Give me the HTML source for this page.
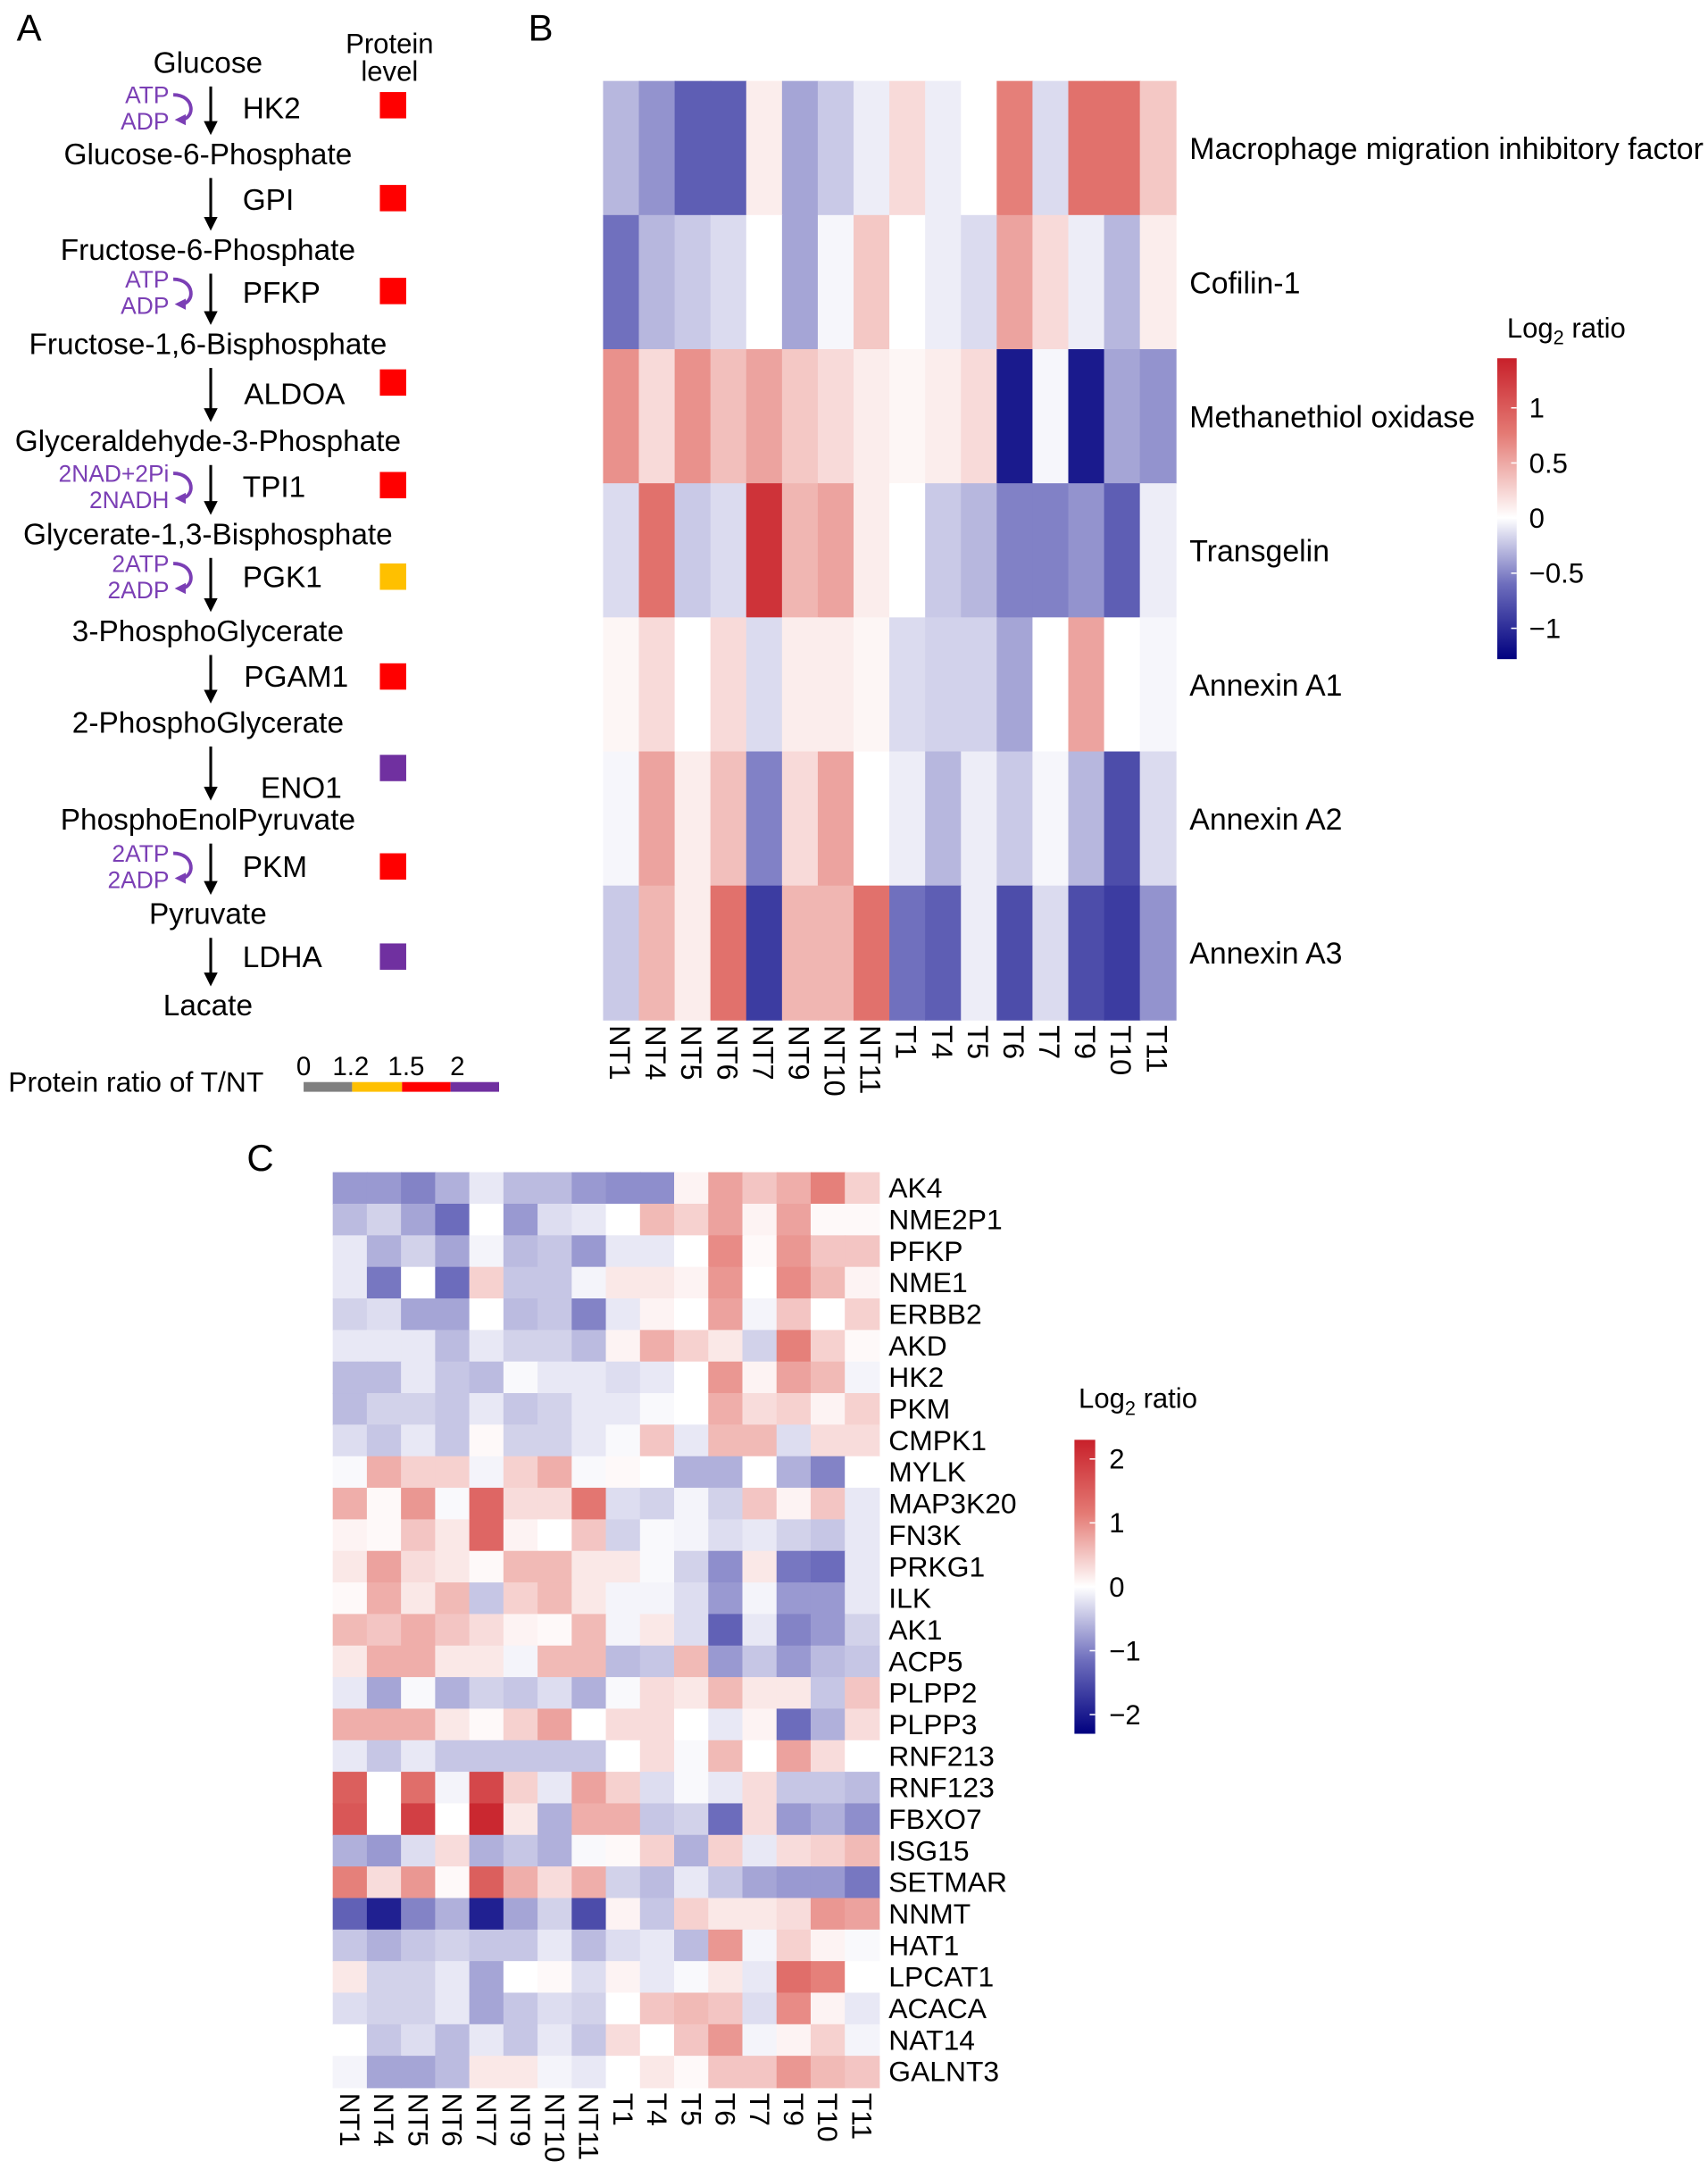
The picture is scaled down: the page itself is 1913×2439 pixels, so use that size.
<!DOCTYPE html>
<html><head><meta charset="utf-8">
<style>
html,body{margin:0;padding:0;background:#fff;}
svg{display:block;font-family:"Liberation Sans",Arial,sans-serif;}
</style></head>
<body>
<svg id="fig" width="1913" height="2439" viewBox="0 0 1232 1570" xmlns="http://www.w3.org/2000/svg">
<defs>
<marker id="ah" markerUnits="userSpaceOnUse" markerWidth="10" markerHeight="10" refX="5" refY="5" orient="auto"><path d="M0,0 L10,5 L0,10 z" fill="#000"/></marker>
<marker id="ahp" markerUnits="userSpaceOnUse" markerWidth="8" markerHeight="8" refX="4" refY="4" orient="auto"><path d="M0,0 L8,4 L0,8 z" fill="#7b3fb5"/></marker>
<linearGradient id="gradB" x1="0" y1="1" x2="0" y2="0">
<stop offset="0" stop-color="#00007f"/><stop offset="0.25" stop-color="#6e6ebd"/><stop offset="0.47" stop-color="#ffffff"/><stop offset="0.75" stop-color="#e47a74"/><stop offset="1" stop-color="#c8202a"/>
</linearGradient>
<linearGradient id="gradC" x1="0" y1="1" x2="0" y2="0">
<stop offset="0" stop-color="#00007f"/><stop offset="0.25" stop-color="#6e6ebd"/><stop offset="0.5" stop-color="#ffffff"/><stop offset="0.75" stop-color="#e47a74"/><stop offset="1" stop-color="#c8202a"/>
</linearGradient>
</defs>
<g id="panelA"></g>
<g id="panelB"></g>
<g id="panelC"></g>
</svg>
<script>
const cols = ["NT1","NT4","NT5","NT6","NT7","NT9","NT10","NT11","T1","T4","T5","T6","T7","T9","T10","T11"];
const rowsB = ["Macrophage migration inhibitory factor","Cofilin-1","Methanethiol oxidase","Transgelin","Annexin A1","Annexin A2","Annexin A3"];
const valsB = [
[-0.4,-0.6,-0.9,-0.9,0.1,-0.5,-0.3,-0.1,0.2,-0.1,0,0.7,-0.2,0.8,0.8,0.3],
[-0.8,-0.4,-0.3,-0.2,0,-0.5,-0.05,0.3,0,-0.1,-0.2,0.5,0.2,-0.1,-0.4,0.1],
[0.6,0.2,0.6,0.35,0.5,0.3,0.2,0.1,0.05,0.1,0.2,-1.3,-0.05,-1.3,-0.5,-0.6],
[-0.2,0.8,-0.3,-0.2,1.3,0.4,0.5,0.1,0,-0.3,-0.4,-0.7,-0.7,-0.6,-0.9,-0.1],
[0.05,0.2,0,0.2,-0.2,0.1,0.1,0.05,-0.2,-0.25,-0.25,-0.5,0,0.5,0,-0.05],
[-0.05,0.5,0.1,0.35,-0.7,0.2,0.5,0,-0.1,-0.4,-0.1,-0.3,-0.05,-0.4,-1,-0.2],
[-0.3,0.4,0.1,0.8,-1.1,0.4,0.4,0.8,-0.8,-0.9,-0.1,-1,-0.2,-1,-1.1,-0.6]];
const ticksB = [1,0.5,0,-0.5,-1];
const ticksBLabels = ["1","0.5","0","\u22120.5","\u22121"];
const rowsC = ["AK4","NME2P1","PFKP","NME1","ERBB2","AKD","HK2","PKM","CMPK1","MYLK","MAP3K20","FN3K","PRKG1","ILK","AK1","ACP5","PLPP2","PLPP3","RNF213","RNF123","FBXO7","ISG15","SETMAR","NNMT","HAT1","LPCAT1","ACACA","NAT14","GALNT3"];
const valsC = [
[-0.9,-0.9,-1.1,-0.7,-0.2,-0.6,-0.6,-0.9,-1.0,-1.0,0.1,0.8,0.5,0.7,1.1,0.4],
[-0.6,-0.4,-0.8,-1.3,0,-0.9,-0.3,-0.2,0,0.6,0.4,0.8,0.1,0.8,0.05,0.05],
[-0.2,-0.7,-0.4,-0.8,-0.1,-0.6,-0.5,-0.9,-0.2,-0.2,0,1.0,0.05,0.9,0.5,0.5],
[-0.2,-1.2,0,-1.3,0.4,-0.5,-0.5,-0.1,0.2,0.2,0.1,0.9,0,1.0,0.6,0.1],
[-0.4,-0.3,-0.8,-0.8,0,-0.6,-0.5,-1.1,-0.2,0.1,0,0.8,-0.1,0.5,0,0.4],
[-0.2,-0.2,-0.2,-0.6,-0.2,-0.4,-0.4,-0.6,0.1,0.7,0.4,0.2,-0.4,1.1,0.4,0.05],
[-0.6,-0.6,-0.2,-0.5,-0.6,-0.05,-0.2,-0.2,-0.3,-0.2,0,0.9,0.1,0.8,0.6,-0.1],
[-0.6,-0.4,-0.4,-0.5,-0.2,-0.5,-0.4,-0.2,-0.2,-0.05,0,0.7,0.3,0.4,0.1,0.4],
[-0.3,-0.5,-0.2,-0.5,0.05,-0.4,-0.4,-0.2,-0.05,0.5,-0.2,0.6,0.6,-0.3,0.3,0.3],
[-0.05,0.7,0.4,0.4,-0.1,0.4,0.7,-0.05,0.05,0,-0.7,-0.7,0,-0.7,-1.1,0],
[0.7,0.05,0.9,-0.05,1.4,0.3,0.3,1.2,-0.3,-0.4,-0.1,-0.4,0.5,0.1,0.5,-0.2],
[0.1,0.05,0.5,0.2,1.4,0.1,0,0.5,-0.4,-0.05,-0.1,-0.3,-0.2,-0.4,-0.5,-0.2],
[0.2,0.8,0.3,0.2,0.05,0.6,0.6,0.2,0.2,-0.05,-0.4,-1.0,0.2,-1.2,-1.3,-0.2],
[0.05,0.7,0.2,0.6,-0.5,0.4,0.6,0.2,-0.1,-0.1,-0.3,-0.9,-0.1,-0.9,-0.9,-0.2],
[0.6,0.5,0.7,0.5,0.3,0.1,0.05,0.6,-0.1,0.2,-0.3,-1.4,-0.2,-1.1,-0.9,-0.4],
[0.2,0.7,0.7,0.2,0.2,-0.1,0.6,0.6,-0.6,-0.5,0.6,-0.9,-0.5,-0.9,-0.6,-0.5],
[-0.2,-0.8,-0.05,-0.7,-0.4,-0.5,-0.3,-0.7,-0.05,0.3,0.2,0.6,0.2,0.2,-0.5,0.5],
[0.7,0.7,0.7,0.2,0.05,0.4,0.8,0,0.3,0.3,0,-0.2,0.1,-1.3,-0.7,0.3],
[-0.2,-0.5,-0.2,-0.5,-0.5,-0.5,-0.5,-0.5,0,0.3,-0.05,0.6,0,0.8,0.3,0],
[1.5,0,1.3,-0.1,1.8,0.4,-0.2,0.8,0.4,-0.3,-0.05,-0.2,0.3,-0.5,-0.5,-0.6],
[1.6,0,1.9,0,2.2,0.2,-0.7,0.7,0.7,-0.5,-0.4,-1.3,0.3,-0.9,-0.7,-1.0],
[-0.7,-0.9,-0.3,0.3,-0.7,-0.5,-0.7,-0.05,0.05,0.4,-0.7,0.4,-0.2,0.3,0.4,0.6],
[1.1,0.3,0.9,0.05,1.5,0.7,0.3,0.7,-0.4,-0.6,-0.2,-0.5,-0.8,-0.9,-0.9,-1.2],
[-1.4,-2.0,-1.1,-0.7,-2.0,-0.8,-0.4,-1.6,0.1,-0.5,0.4,0.2,0.2,0.3,0.9,0.8],
[-0.5,-0.7,-0.5,-0.4,-0.5,-0.5,-0.2,-0.6,-0.3,-0.2,-0.6,0.9,-0.1,0.4,0.1,-0.05],
[0.2,-0.4,-0.4,-0.2,-0.8,0,0.05,-0.3,0.1,-0.2,-0.05,0.2,-0.2,1.3,1.1,0],
[-0.3,-0.4,-0.4,-0.2,-0.8,-0.5,-0.3,-0.4,0,0.5,0.6,0.5,-0.3,1.0,0.1,-0.2],
[0,-0.5,-0.3,-0.6,-0.2,-0.5,-0.2,-0.5,0.3,0,0.5,0.9,-0.1,0.1,0.4,-0.1],
[-0.1,-0.8,-0.8,-0.6,0.2,0.2,-0.1,-0.2,0,0.2,0.05,0.5,0.5,0.9,0.6,0.5]];
const ticksC = [2,1,0,-1,-2];
const ticksCLabels = ["2","1","0","\u22121","\u22122"];
const metabolites = ["Glucose","Glucose-6-Phosphate","Fructose-6-Phosphate","Fructose-1,6-Bisphosphate","Glyceraldehyde-3-Phosphate","Glycerate-1,3-Bisphosphate","3-PhosphoGlycerate","2-PhosphoGlycerate","PhosphoEnolPyruvate","Pyruvate","Lacate"];
const enzymes = ["HK2","GPI","PFKP","ALDOA","TPI1","PGK1","PGAM1","ENO1","PKM","LDHA"];
const enzymeLevel = [1.6,1.6,1.6,1.6,1.6,1.3,1.6,2.2,1.6,2.2];
const legendBreaks = [0,1.2,1.5,2];

const NS="http://www.w3.org/2000/svg";
function mk(parent,tag,attrs,text){const e=document.createElementNS(NS,tag);for(const k in attrs)e.setAttribute(k,attrs[k]);if(text!==undefined)e.textContent=text;parent.appendChild(e);return e;}
function lerp(a,b,t){return a.map((v,i)=>Math.round(v+(b[i]-v)*t));}
function cmap(t){t=Math.max(-1,Math.min(1,t));
 const W=[255,255,255],Bm=[112,112,190],Bd=[0,0,127],Rm=[228,122,116],Rd=[200,32,42];
 let c; if(t<0){const a=-t;c=a<0.55?lerp(W,Bm,a/0.55):lerp(Bm,Bd,(a-0.55)/0.45);} else {c=t<0.5?lerp(W,Rm,t/0.5):lerp(Rm,Rd,(t-0.5)/0.5);}
 return `rgb(${c[0]},${c[1]},${c[2]})`;}

// ---------- Panel B ----------
const gB=document.getElementById('panelB');
const bX0=435,bX1=848,bY0=58,bY1=735;
const bxs=(i)=>bX0+i*(bX1-bX0)/cols.length, bw=(bX1-bX0)/cols.length;
const bys=(j)=>bY0+j*(bY1-bY0)/rowsB.length, bh=(bY1-bY0)/rowsB.length;
const bMin=-1.28,bMax=1.45;
function colB(v){return cmap(v/1.45);}
let t=mk(gB,'text',{x:381,y:29,'font-size':27},'B');

valsB.forEach((row,j)=>row.forEach((v,i)=>{
 const r=mk(gB,'rect',{x:bxs(i),y:bys(j),width:bw+0.6,height:bh+0.6,fill:colB(v)});
 
 
}));
rowsB.forEach((n,j)=>{const e=mk(gB,'text',{x:858,y:bys(j)+bh/2+8,'font-size':21.8},n);
 
 });
cols.forEach((n,i)=>{const x=bxs(i)+bw/2-8;const e=mk(gB,'text',{x:x,y:739,'font-size':21,transform:`rotate(90 ${x} 739)`},n);
 
 });
const cbBy0=258,cbBy1=475;
const cbBy=(v)=>cbBy1-(v-bMin)/(bMax-bMin)*(cbBy1-cbBy0);
let cb=mk(gB,'rect',{x:1080,y:cbBy0,width:14,height:cbBy1-cbBy0,fill:'url(#gradB)'});

let tt=mk(gB,'text',{x:1087,y:243,'font-size':20});tt.innerHTML='Log<tspan font-size="14" dy="5">2</tspan><tspan dy="-5"> ratio</tspan>';

ticksB.forEach((v,k)=>{mk(gB,'line',{x1:1094,x2:1090,y1:cbBy(v),y2:cbBy(v),stroke:'#fff'});
 const e=mk(gB,'text',{x:1103,y:cbBy(v)+7,'font-size':20},ticksBLabels[k]);
 
 });

// ---------- Panel C ----------
const gC=document.getElementById('panelC');
const cX0=240,cX1=634,cY0=845,cY1=1505;
const cw=(cX1-cX0)/cols.length, ch=(cY1-cY0)/rowsC.length;
const cxs=(i)=>cX0+i*cw, cys=(j)=>cY0+j*ch;
const cMax=2.3;
t=mk(gC,'text',{x:178,y:844,'font-size':27},'C');

valsC.forEach((row,j)=>row.forEach((v,i)=>{
 const r=mk(gC,'rect',{x:cxs(i),y:cys(j),width:cw+0.6,height:ch+0.6,fill:cmap(v/cMax)});
 
 
}));
rowsC.forEach((n,j)=>{const e=mk(gC,'text',{x:641,y:cys(j)+ch/2+7,'font-size':20.5},n);
 
 });
cols.forEach((n,i)=>{const x=cxs(i)+cw/2-7;const e=mk(gC,'text',{x:x,y:1509,'font-size':20.5,transform:`rotate(90 ${x} 1509)`},n);
 
 });
const cbCy0=1038,cbCy1=1250;
const cbCy=(v)=>cbCy1-(v+cMax)/(2*cMax)*(cbCy1-cbCy0);
cb=mk(gC,'rect',{x:775,y:cbCy0,width:15,height:cbCy1-cbCy0,fill:'url(#gradC)'});

tt=mk(gC,'text',{x:778,y:1015,'font-size':20});tt.innerHTML='Log<tspan font-size="14" dy="5">2</tspan><tspan dy="-5"> ratio</tspan>';

ticksC.forEach((v,k)=>{mk(gC,'line',{x1:790,x2:786,y1:cbCy(v),y2:cbCy(v),stroke:'#fff'});
 const e=mk(gC,'text',{x:800,y:cbCy(v)+7,'font-size':20},ticksCLabels[k]);
 
 });

// ---------- Panel A ----------
const gA=document.getElementById('panelA');
t=mk(gA,'text',{x:12,y:29,'font-size':27},'A');

t=mk(gA,'text',{x:281,y:38,'font-size':20,'text-anchor':'middle'},'Protein');

mk(gA,'text',{x:281,y:58,'font-size':20,'text-anchor':'middle'},'level');
const metY=[45,111,180,248,318,385,455,521,591,659,725];
const enzY=[77,143,210,283,350,415,487,567,624,689];
const sqY=[75,142,209,275,349,415,487,553,624,689];
function levelColor(v){return v<legendBreaks[1]?'#808080':v<legendBreaks[2]?'#ffc000':v<legendBreaks[3]?'#ff0000':'#7030a0';}
metabolites.forEach((m,k)=>{const e=mk(gA,'text',{x:150,y:metY[k]+7,'font-size':21.5,'text-anchor':'middle'},m);
 
 });
enzymes.forEach((n,k)=>{
 const y0=metY[k]+17,y1=metY[k+1]-15;
 mk(gA,'line',{x1:152,x2:152,y1:y0,y2:y1-4,stroke:'#000','stroke-width':2,'marker-end':'url(#ah)'});
 const e=mk(gA,'text',{x:n==='ENO1'?188:(n==='ALDOA'||n==='PGAM1'?176:175),y:enzY[k]+8,'font-size':21.5},n);
 
 
 const s=mk(gA,'rect',{x:274,y:sqY[k]-9,width:19,height:19,fill:levelColor(enzymeLevel[k])});
 
 
});
const cof=[[0,'ATP','ADP'],[2,'ATP','ADP'],[4,'2NAD+2Pi','2NADH'],[5,'2ATP','2ADP'],[8,'2ATP','2ADP']];
cof.forEach(c=>{const k=c[0];const yc=enzY[k];
 const a=mk(gA,'text',{x:122,y:yc-3,'font-size':17,fill:'#7b3fb5','text-anchor':'end'},c[1]);
 
 const b=mk(gA,'text',{x:122,y:yc+16,'font-size':17,fill:'#7b3fb5','text-anchor':'end'},c[2]);
 
 mk(gA,'path',{d:`M125,${yc-9} C141,${yc-9} 141,${yc+9} 130,${yc+9}`,fill:'none',stroke:'#7b3fb5','stroke-width':2.5,'marker-end':'url(#ahp)'});
});
t=mk(gA,'text',{x:6,y:787,'font-size':20.5},'Protein ratio of T/NT');

const legX=(v)=>v<=1.2?219+v/1.2*35:v<=1.5?254+(v-1.2)/0.3*36:v<=2?290+(v-1.5)/0.5*35:325;
const legCols=['#808080','#ffc000','#ff0000','#7030a0'];
const legEdges=[0,1.2,1.5,2,2.5];
for(let k=0;k<4;k++){const x0=legX(legEdges[k]),x1=k<3?legX(legEdges[k+1]):360;
 const r=mk(gA,'rect',{x:x0,y:780,width:x1-x0,height:7,fill:legCols[k]});
 
 }
const legLabX=[219,253,293,330];
legendBreaks.forEach((v,k)=>{const e=mk(gA,'text',{x:legLabX[k],y:775,'font-size':19,'text-anchor':'middle'},String(v));
 
 });
</script>
</body></html>
